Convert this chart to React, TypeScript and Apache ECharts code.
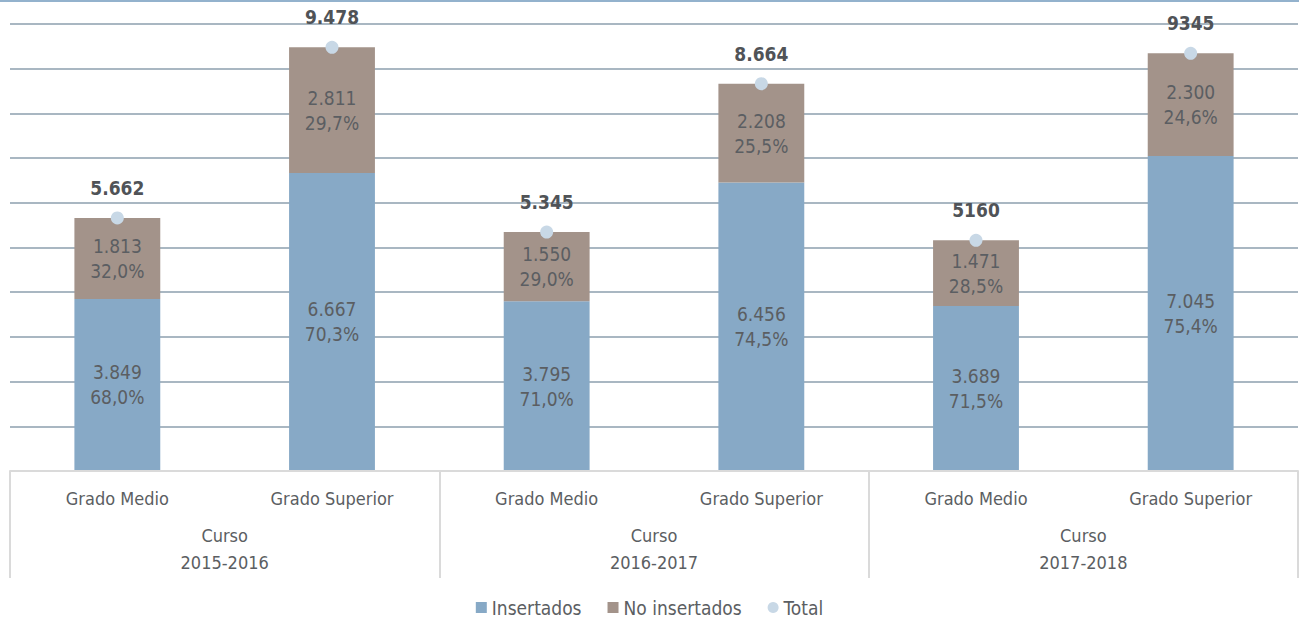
import React, { useEffect, useRef } from "react";
import * as echarts from "echarts";

const categories = [
  "Grado Medio",
  "Grado Superior",
  "Grado Medio",
  "Grado Superior",
  "Grado Medio",
  "Grado Superior",
];
const courses = ["Curso\n2015-2016", "Curso\n2016-2017", "Curso\n2017-2018"];
const insertados = [3849, 6667, 3795, 6456, 3689, 7045];
const insertadosPct = ["68,0%", "70,3%", "71,0%", "74,5%", "71,5%", "75,4%"];
const noInsertados = [1813, 2811, 1550, 2208, 1471, 2300];
const noInsertadosPct = ["32,0%", "29,7%", "29,0%", "25,5%", "28,5%", "24,6%"];
const totals = [5662, 9478, 5345, 8664, 5160, 9345];
const totalLabels = ["5.662", "9.478", "5.345", "8.664", "5160", "9345"];

const FONT = "'Liberation Sans Narrow', 'DejaVu Sans Condensed', 'Roboto Condensed', Arial, sans-serif";
const BLUE = "#87a9c6";
const BROWN = "#a3938a";
const DOT = "#c8d8e6";
const TEXT = "#5b5e62";

const fmt = (v: number) => String(v).replace(/\B(?=(\d{3})+(?!\d))/g, ".");

export default function App() {
  const ref = useRef<HTMLDivElement>(null);
  useEffect(() => {
    if (!ref.current) return;
    const chart = echarts.init(ref.current, null, { renderer: "svg" });
    chart.setOption({
      animation: false,
      backgroundColor: "#ffffff",
      textStyle: { fontFamily: FONT },
      grid: { left: 10, right: 1, top: 24, bottom: 152, containLabel: false },
      legend: {
        bottom: 1,
        left: "center",
        itemWidth: 11,
        itemHeight: 11,
        itemGap: 26,
        textStyle: { fontFamily: FONT, fontSize: 19, color: TEXT },
        data: [
          { name: "Insertados", icon: "rect" },
          { name: "No insertados", icon: "rect" },
          { name: "Total", icon: "circle" },
        ],
      },
      graphic: [
        {
          type: "rect",
          left: 0,
          top: 0,
          shape: { width: 1299, height: 2 },
          style: { fill: "#93b2cd" },
        },
      ],
      xAxis: [
        {
          type: "category",
          data: categories,
          position: "bottom",
          axisLine: { show: true, lineStyle: { color: "#dadada", width: 2 } },
          axisTick: { show: false },
          axisLabel: {
            margin: 18,
            fontSize: 18,
            color: TEXT,
            fontFamily: FONT,
            interval: 0,
          },
          z: 5,
        },
        {
          type: "category",
          data: courses,
          position: "bottom",
          axisLine: { show: false },
          axisTick: {
            show: true,
            length: 107,
            interval: 0,
            lineStyle: { color: "#dadada", width: 2 },
          },
          axisLabel: {
            margin: 51,
            fontSize: 18,
            lineHeight: 27,
            color: TEXT,
            fontFamily: FONT,
            interval: 0,
          },
        },
      ],
      yAxis: {
        type: "value",
        min: 0,
        max: 10000,
        interval: 1000,
        axisLabel: { show: false },
        axisLine: { show: false },
        axisTick: { show: false },
        splitLine: {
          show: true,
          showMinLine: false,
          lineStyle: { color: "#a9b7c2", width: 2 },
        },
      },
      series: [
        {
          name: "Insertados",
          type: "bar",
          stack: "total",
          barWidth: "40%",
          data: insertados,
          itemStyle: { color: BLUE },
          label: {
            show: true,
            position: "inside",
            fontSize: 19,
            lineHeight: 25,
            color: TEXT,
            fontFamily: FONT,
            formatter: (p: any) => `${fmt(p.value)}\n${insertadosPct[p.dataIndex]}`,
          },
        },
        {
          name: "No insertados",
          type: "bar",
          stack: "total",
          barWidth: "40%",
          data: noInsertados,
          itemStyle: { color: BROWN },
          label: {
            show: true,
            position: "inside",
            fontSize: 19,
            lineHeight: 25,
            color: TEXT,
            fontFamily: FONT,
            formatter: (p: any) => `${fmt(p.value)}\n${noInsertadosPct[p.dataIndex]}`,
          },
        },
        {
          name: "Total",
          type: "line",
          data: totals,
          symbol: "circle",
          symbolSize: 13,
          showSymbol: true,
          lineStyle: { width: 0, opacity: 0 },
          itemStyle: { color: DOT },
          z: 10,
          label: {
            show: true,
            position: "top",
            distance: 14,
            fontSize: 19,
            fontWeight: "bold",
            color: "#505357",
            fontFamily: FONT,
            formatter: (p: any) => totalLabels[p.dataIndex],
          },
        },
      ],
    });
    return () => chart.dispose();
  }, []);
  return (
    <div
      ref={ref}
      style={{ position: "fixed", left: 0, top: 0, width: 1299, height: 623 }}
    />
  );
}
